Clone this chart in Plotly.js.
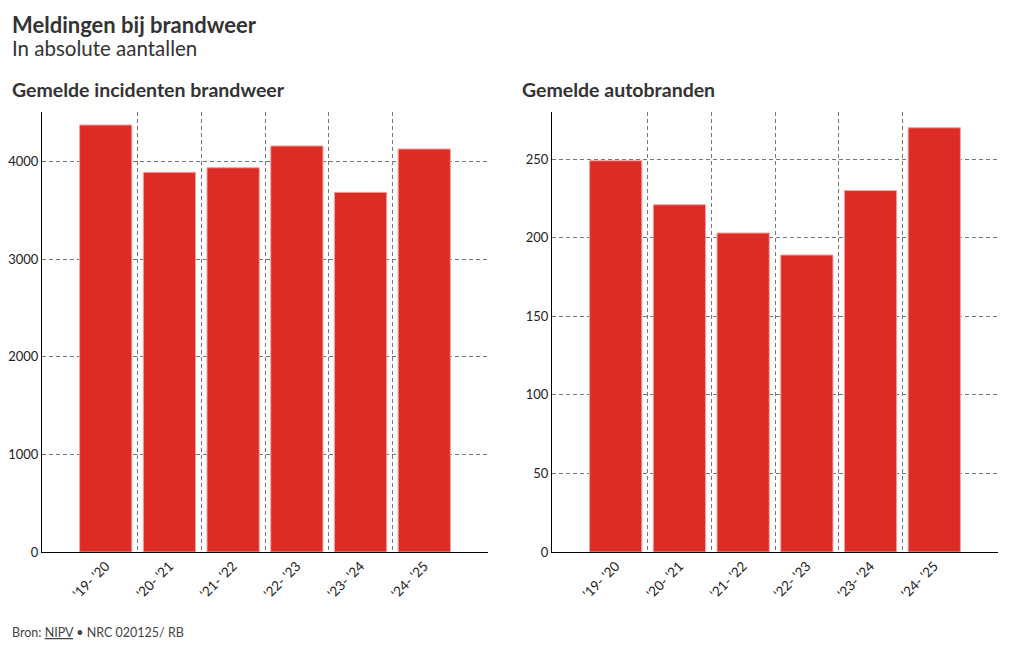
<!DOCTYPE html>
<html>
<head>
<meta charset="utf-8">
<script src="https://cdn.plot.ly/plotly-3.0.1.min.js"></script>
<style>html,body{margin:0;padding:0;background:#fff}#chart{width:1020px;height:650px}</style>
</head>
<body>
<div id="chart"></div>
<script>
const seasons = ["'19- '20", "'20- '21", "'21- '22", "'22- '23", "'23- '24", "'24- '25"];
const incidenten = [4375, 3890, 3937, 4160, 3685, 4129];
const autobranden = [249, 221, 203, 189, 230, 270];
const boundaries = [0.5, 1.5, 2.5, 3.5, 4.5];

const FONT = "Lato, 'Noto Sans', sans-serif";
const barColor = '#dd2c26';
const barLine = '#f3a39d';

const traces = [
  {type: 'bar', x: seasons, y: incidenten, xaxis: 'x', yaxis: 'y',
   marker: {color: barColor, line: {color: barLine, width: 1}}, width: 0.82, hoverinfo: 'x+y'},
  {type: 'bar', x: seasons, y: autobranden, xaxis: 'x2', yaxis: 'y2',
   marker: {color: barColor, line: {color: barLine, width: 1}}, width: 0.82, hoverinfo: 'x+y'},
  {type: 'scatter', mode: 'markers', x: boundaries, y: boundaries.map(() => null), xaxis: 'x3', yaxis: 'y', hoverinfo: 'skip'},
  {type: 'scatter', mode: 'markers', x: boundaries, y: boundaries.map(() => null), xaxis: 'x4', yaxis: 'y2', hoverinfo: 'skip'}
];

const gridDash = {showgrid: true, gridcolor: '#777777', griddash: '4px,3px', gridwidth: 1};

function catAxis(domain, anchor) {
  return {domain: domain, anchor: anchor, type: 'category', range: [-1, 6],
    showgrid: false, showline: true, linecolor: '#000', linewidth: 1,
    ticks: '', tickangle: -45, tickfont: {family: FONT, size: 13.5, color: '#222'},
    zeroline: false, fixedrange: true};
}
function gridAxis(overlay, anchor) {
  return Object.assign({overlaying: overlay, anchor: anchor, type: 'linear', range: [-1, 6],
    tickmode: 'array', tickvals: boundaries, showticklabels: false, ticks: '', showline: false, zeroline: false,
    side: 'bottom', fixedrange: true}, gridDash);
}
function valAxis(domain, anchor, range, dtick) {
  return Object.assign({domain: domain, anchor: anchor, range: range, dtick: dtick,
    showline: true, linecolor: '#000', linewidth: 1, ticks: '', ticklen: 0,
    tickfont: {family: FONT, size: 13, color: '#222'}, zeroline: false, fixedrange: true}, gridDash);
}

const yDom = [1 - 552/650, 1 - 112/650];
const layout = {
  width: 1020, height: 650,
  margin: {l: 0, r: 0, t: 0, b: 0},
  paper_bgcolor: '#fff', plot_bgcolor: '#fff',
  showlegend: false,
  font: {family: FONT, color: '#333'},
  xaxis: catAxis([42/1020, 488/1020], 'y'),
  yaxis: valAxis(yDom, 'x', [0, 4508], 1000),
  xaxis2: catAxis([552/1020, 998/1020], 'y2'),
  yaxis2: valAxis(yDom, 'x2', [0, 280], 50),
  xaxis3: gridAxis('x', 'y'),
  xaxis4: gridAxis('x2', 'y2'),
  annotations: [
    {text: '<b>Meldingen bij brandweer</b>', xref: 'paper', yref: 'paper', x: 10/1020, y: 1 - 24/650,
     xanchor: 'left', yanchor: 'middle', showarrow: false, font: {family: FONT, size: 22, color: '#333'}},
    {text: 'In absolute aantallen', xref: 'paper', yref: 'paper', x: 10/1020, y: 1 - 48/650,
     xanchor: 'left', yanchor: 'middle', showarrow: false, font: {family: FONT, size: 20.5, color: '#333'}},
    {text: '<b>Gemelde incidenten brandweer</b>', xref: 'paper', yref: 'paper', x: 10/1020, y: 1 - 90/650,
     xanchor: 'left', yanchor: 'middle', showarrow: false, font: {family: FONT, size: 19.5, color: '#333'}},
    {text: '<b>Gemelde autobranden</b>', xref: 'paper', yref: 'paper', x: 520/1020, y: 1 - 90/650,
     xanchor: 'left', yanchor: 'middle', showarrow: false, font: {family: FONT, size: 19.5, color: '#333'}},
    {text: 'Bron: <span style="text-decoration:underline">NIPV</span> • NRC 020125/ RB', xref: 'paper', yref: 'paper',
     x: 10/1020, y: 1 - 632/650, xanchor: 'left', yanchor: 'middle', showarrow: false,
     font: {family: FONT, size: 12.5, color: '#444'}}
  ]
};

Plotly.newPlot('chart', traces, layout, {displayModeBar: false, staticPlot: true});
</script>
</body>
</html>
